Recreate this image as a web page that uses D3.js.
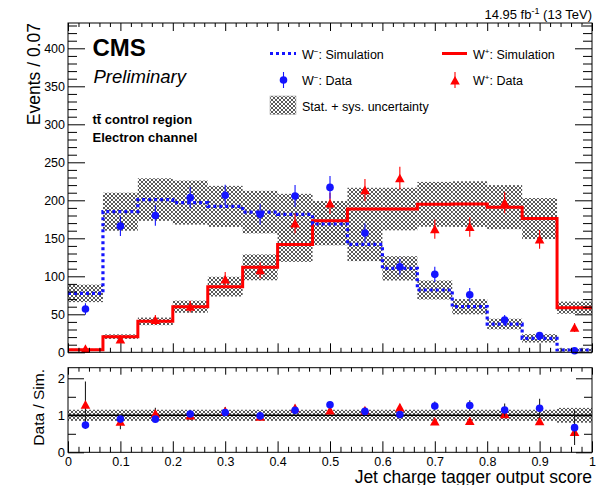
<!DOCTYPE html>
<html>
<head>
<meta charset="utf-8">
<script src="https://cdn.jsdelivr.net/npm/d3@7"></script>
<style>
  body { margin: 0; background: #fff; }
  svg { display: block; }
  text { font-family: "Liberation Sans", Arial, Helvetica, sans-serif; fill: #000; }
</style>
</head>
<body>
<svg id="chart" width="599" height="485"></svg>
<script>
// Jet charge tagger output: 15 bins of width 1/15
const binEdges = [0, 0.0667, 0.1333, 0.2, 0.2667, 0.3333, 0.4, 0.4667, 0.5333, 0.6, 0.6667, 0.7333, 0.8, 0.8667, 0.9333, 1];
const binCenters = [0.0333, 0.1, 0.1667, 0.2333, 0.3, 0.3667, 0.4333, 0.5, 0.5667, 0.6333, 0.7, 0.7667, 0.8333, 0.9, 0.9667];

// W- simulation, its uncertainty, and data
const wMinusSim  = [77.5, 185, 201, 197, 192, 184.5, 181.5, 168.8, 142, 110.5, 82, 60, 37.2, 18.4, 3];
const wMinusUnc  = [11.5, 25, 28, 29, 27, 28, 27, 28, 22, 16, 12.5, 10, 7, 5.5, 2];
const wMinusData = [57, 166, 180, 203.5, 206.5, 181.5, 205.7, 217, 157, 112.6, 102.6, 75.8, 42.5, 21.9, 2];
const wMinusErr  = [7.5, 13, 13.5, 14, 14, 13.5, 14.5, 15, 12.5, 10.5, 10, 8.7, 6.5, 4.7, 1.4];

// W+ simulation, its uncertainty, and data
const wPlusSim  = [3.5, 20.6, 40.7, 60, 86.4, 111.8, 142, 173, 188.5, 188.5, 194.7, 195, 191, 176, 58.7];
const wPlusUnc  = [1, 3, 5, 8, 13, 17, 23, 26, 28, 28, 29.5, 30, 29, 27, 8];
const wPlusData = [4.5, 17, 42.5, 60, 96, 108, 169.7, 196, 213.5, 229, 162, 165, 197, 148.6, 32.4];
const wPlusErr  = [2.2, 4.1, 6.5, 7.7, 9.8, 10.4, 13, 14, 14.6, 15.1, 12.7, 12.8, 14, 12.2, 5.7];

// relative stat. + sys. uncertainty shown around 1 in the ratio panel
const ratioUnc = [0.15, 0.15, 0.15, 0.15, 0.15, 0.15, 0.15, 0.15, 0.15, 0.15, 0.15, 0.15, 0.15, 0.15, 0.2];

// axis ticks
const xMajorTicks = [0, 0.1, 0.2, 0.3, 0.4, 0.5, 0.6, 0.7, 0.8, 0.9, 1];
const xTickLabels = ["0", "0.1", "0.2", "0.3", "0.4", "0.5", "0.6", "0.7", "0.8", "0.9", "1"];
const yMajorTicks = [0, 50, 100, 150, 200, 250, 300, 350, 400];
const ratioMajorTicks = [0, 1, 2];
const ratioMinorTicks = [0.5, 1.5];

// ---- layout ----
const X0 = 68, X1 = 592;
const MAIN_TOP = 23, MAIN_BOT = 352.3;
const RAT_TOP = 367.7, RAT_BOT = 452.3;

const svg = d3.select("#chart");

const x = d3.scaleLinear().domain([0, 1]).range([X0, X1]);
const y = d3.scaleLinear().domain([0, 433.3]).range([MAIN_BOT, MAIN_TOP]);
const yr = d3.scaleLinear().domain([0, 2.286]).range([RAT_BOT, RAT_TOP]);

const BLUE = "#1414ff", RED = "#ff0000";

// crosshatch fill for the uncertainty bands
const defs = svg.append("defs");
const pat = defs.append("pattern")
  .attr("id", "hatch").attr("patternUnits", "userSpaceOnUse")
  .attr("width", 4).attr("height", 4);
pat.append("path").attr("d", "M0,0L4,4M4,0L0,4M-1,1L1,-1M3,5L5,3M-1,3L1,5M3,-1L5,1")
  .attr("stroke", "#505050").attr("stroke-width", 0.95).attr("fill", "none");

const minorTicks = (lo, hi, step, majorStep) => {
  const out = [];
  for (let v = lo; v <= hi + 1e-9; v += step) {
    const r = v / majorStep;
    if (Math.abs(r - Math.round(r)) > 1e-6) out.push(+v.toFixed(6));
  }
  return out;
};
const xMinor = minorTicks(0, 1, 0.02, 0.1);
const yMinor = minorTicks(0, 430, 10, 50);

function axis(gen, scale, values, len, fmt, pad) {
  return gen(scale).tickValues(values).tickSizeInner(-len).tickSizeOuter(0)
    .tickPadding(pad || 3).tickFormat(fmt || (() => ""));
}
function drawAxis(sel, tr, a) {
  const g = sel.append("g").attr("transform", tr).call(a);
  g.select(".domain").remove();
  g.selectAll(".tick line").attr("stroke", "#000").attr("stroke-width", 1);
  g.selectAll("text").attr("font-family", "\"Liberation Sans\", Arial, sans-serif");
  return g;
}

// ================= main panel =================
const main = svg.append("g");

// uncertainty bands
function bands(sim, unc) {
  main.append("g").selectAll("rect").data(sim).join("rect")
    .attr("x", (d, i) => x(binEdges[i]))
    .attr("width", (d, i) => x(binEdges[i + 1]) - x(binEdges[i]))
    .attr("y", (d, i) => y(d + unc[i]))
    .attr("height", (d, i) => y(d - unc[i]) - y(d + unc[i]))
    .attr("fill", "url(#hatch)");
}
bands(wMinusSim, wMinusUnc);
bands(wPlusSim, wPlusUnc);

// step histograms
const stepLine = d3.line().curve(d3.curveStepAfter).x(d => x(d[0])).y(d => y(d[1]));
const stepPts = sim => sim.map((v, i) => [binEdges[i], v]).concat([[binEdges[sim.length], sim[sim.length - 1]]]);

main.append("path").attr("d", stepLine(stepPts(wPlusSim)))
  .attr("fill", "none").attr("stroke", RED).attr("stroke-width", 3);
main.append("path").attr("d", stepLine(stepPts(wMinusSim)))
  .attr("fill", "none").attr("stroke", BLUE).attr("stroke-width", 3.2)
  .attr("stroke-dasharray", "3,3");

// data points
const triPath = "M0,-4.6L4.8,4.1L-4.8,4.1Z";
function dataPoints(g, scale, vals, errs, color, shape, errColor) {
  const pts = g.append("g");
  pts.selectAll("line").data(vals).join("line")
    .attr("x1", (d, i) => x(binCenters[i])).attr("x2", (d, i) => x(binCenters[i]))
    .attr("y1", (d, i) => scale(d + errs[i])).attr("y2", (d, i) => scale(Math.max(0, d - errs[i])))
    .attr("stroke", errColor || color).attr("stroke-width", 1.1);
  if (shape === "circle") {
    pts.selectAll("circle").data(vals).join("circle")
      .attr("cx", (d, i) => x(binCenters[i])).attr("cy", d => scale(d))
      .attr("r", 3.8).attr("fill", color);
  } else {
    pts.selectAll("path").data(vals).join("path")
      .attr("d", triPath)
      .attr("transform", (d, i) => `translate(${x(binCenters[i])},${scale(d)})`)
      .attr("fill", color);
  }
}
dataPoints(main, y, wPlusData, wPlusErr, RED, "tri");
dataPoints(main, y, wMinusData, wMinusErr, BLUE, "circle");

// frame and ticks
main.append("rect").attr("x", X0).attr("y", MAIN_TOP)
  .attr("width", X1 - X0).attr("height", MAIN_BOT - MAIN_TOP)
  .attr("fill", "none").attr("stroke", "#000").attr("stroke-width", 1);

const yl = drawAxis(main, `translate(${X0},0)`, axis(d3.axisLeft, y, yMajorTicks, 17, d3.format("d"), 3));
yl.selectAll("text").attr("font-size", 12.5);
drawAxis(main, `translate(${X0},0)`, axis(d3.axisLeft, y, yMinor, 9));
drawAxis(main, `translate(${X1},0)`, axis(d3.axisRight, y, yMajorTicks, 17));
drawAxis(main, `translate(${X1},0)`, axis(d3.axisRight, y, yMinor, 9));
drawAxis(main, `translate(0,${MAIN_TOP})`, axis(d3.axisTop, x, xMajorTicks, 8));
drawAxis(main, `translate(0,${MAIN_TOP})`, axis(d3.axisTop, x, xMinor, 4));
drawAxis(main, `translate(0,${MAIN_BOT})`, axis(d3.axisBottom, x, xMajorTicks, 9));
drawAxis(main, `translate(0,${MAIN_BOT})`, axis(d3.axisBottom, x, xMinor, 4.5));

// y title
svg.append("text").attr("transform", `translate(40,${MAIN_TOP}) rotate(-90)`)
  .attr("text-anchor", "end").attr("font-size", 17.5).text("Events / 0.07");

// header texts
svg.append("text").attr("x", 592).attr("y", 18.5).attr("text-anchor", "end").attr("font-size", 13)
  .call(t => {
    t.append("tspan").text("14.95 fb");
    t.append("tspan").attr("dy", -5).attr("font-size", 9).text("-1");
    t.append("tspan").attr("dy", 5).text(" (13 TeV)");
  });
svg.append("text").attr("x", 92.5).attr("y", 56).attr("font-size", 24).attr("font-weight", "bold").text("CMS");
svg.append("text").attr("x", 93.5).attr("y", 82.5).attr("font-size", 18.5).attr("font-style", "italic").text("Preliminary");
svg.append("text").attr("x", 92.5).attr("y", 124).attr("font-size", 13).attr("font-weight", "bold").text("tt\u0304 control region");
svg.append("text").attr("x", 92.5).attr("y", 142.3).attr("font-size", 13).attr("font-weight", "bold").text("Electron channel");

// legend
const leg = svg.append("g");
function legText(xp, yp, sup, rest) {
  leg.append("text").attr("x", xp).attr("y", yp).attr("font-size", 12.5).call(t => {
    t.append("tspan").text("W");
    t.append("tspan").attr("dy", -5).attr("font-size", 8).text(sup);
    t.append("tspan").attr("dy", 5).text(rest);
  });
}
leg.append("line").attr("x1", 270).attr("x2", 296).attr("y1", 53.5).attr("y2", 53.5)
  .attr("stroke", BLUE).attr("stroke-width", 3.2).attr("stroke-dasharray", "3,3");
legText(302, 59, "\u2212", ": Simulation");
leg.append("line").attr("x1", 283.5).attr("x2", 283.5).attr("y1", 72).attr("y2", 88).attr("stroke", BLUE).attr("stroke-width", 1.1);
leg.append("circle").attr("cx", 283.5).attr("cy", 80).attr("r", 3.8).attr("fill", BLUE);
legText(302, 85, "\u2212", ": Data");
leg.append("rect").attr("x", 270).attr("y", 96).attr("width", 26).attr("height", 18.5)
  .attr("fill", "url(#hatch)").attr("stroke", "#aaa").attr("stroke-width", 0.6);
leg.append("text").attr("x", 302).attr("y", 111).attr("font-size", 12.5).text("Stat. + sys. uncertainty");

leg.append("line").attr("x1", 442).attr("x2", 467).attr("y1", 53.5).attr("y2", 53.5)
  .attr("stroke", RED).attr("stroke-width", 3);
legText(473, 59, "+", ": Simulation");
leg.append("line").attr("x1", 455).attr("x2", 455).attr("y1", 72).attr("y2", 88).attr("stroke", RED).attr("stroke-width", 1.1);
leg.append("path").attr("d", triPath).attr("transform", "translate(455,80.5)").attr("fill", RED);
legText(473, 85, "+", ": Data");

// ================= ratio panel =================
const rat = svg.append("g");
rat.append("g").selectAll("rect").data(ratioUnc).join("rect")
  .attr("x", (d, i) => x(binEdges[i]))
  .attr("width", (d, i) => x(binEdges[i + 1]) - x(binEdges[i]))
  .attr("y", d => yr(1 + d)).attr("height", d => yr(1 - d) - yr(1 + d))
  .attr("fill", "url(#hatch)");
rat.append("line").attr("x1", X0).attr("x2", X1).attr("y1", yr(1)).attr("y2", yr(1))
  .attr("stroke", "#000").attr("stroke-width", 1.6);

const ratioPlus = wPlusData.map((d, i) => d / wPlusSim[i]);
const ratioPlusErr = wPlusErr.map((e, i) => e / wPlusSim[i]);
const ratioMinus = wMinusData.map((d, i) => d / wMinusSim[i]);
const ratioMinusErr = wMinusErr.map((e, i) => e / wMinusSim[i]);
dataPoints(rat, yr, ratioPlus, ratioPlusErr, RED, "tri", "#222");
dataPoints(rat, yr, ratioMinus, ratioMinusErr, BLUE, "circle", "#222");

rat.append("rect").attr("x", X0).attr("y", RAT_TOP)
  .attr("width", X1 - X0).attr("height", RAT_BOT - RAT_TOP)
  .attr("fill", "none").attr("stroke", "#000").attr("stroke-width", 1);

const ryl = drawAxis(rat, `translate(${X0},0)`, axis(d3.axisLeft, yr, ratioMajorTicks, 16, d3.format("d"), 3));
ryl.selectAll("text").attr("font-size", 13);
drawAxis(rat, `translate(${X0},0)`, axis(d3.axisLeft, yr, ratioMinorTicks, 8));
drawAxis(rat, `translate(${X1},0)`, axis(d3.axisRight, yr, ratioMajorTicks, 16));
drawAxis(rat, `translate(${X1},0)`, axis(d3.axisRight, yr, ratioMinorTicks, 8));
drawAxis(rat, `translate(0,${RAT_TOP})`, axis(d3.axisTop, x, xMajorTicks, 7));
drawAxis(rat, `translate(0,${RAT_TOP})`, axis(d3.axisTop, x, xMinor, 4));
const xb = drawAxis(rat, `translate(0,${RAT_BOT})`,
  axis(d3.axisBottom, x, xMajorTicks, 11, (d, i) => xTickLabels[i], 4.5));
xb.selectAll("text").attr("font-size", 12.5);
drawAxis(rat, `translate(0,${RAT_BOT})`, axis(d3.axisBottom, x, xMinor, 5.5));

svg.append("text").attr("transform", `translate(43.5,369) rotate(-90)`)
  .attr("text-anchor", "end").attr("font-size", 15.5).text("Data / Sim.");
svg.append("text").attr("x", 592).attr("y", 482.5).attr("text-anchor", "end")
  .attr("font-size", 17.5).text("Jet charge tagger output score");
</script>
</body>
</html>
